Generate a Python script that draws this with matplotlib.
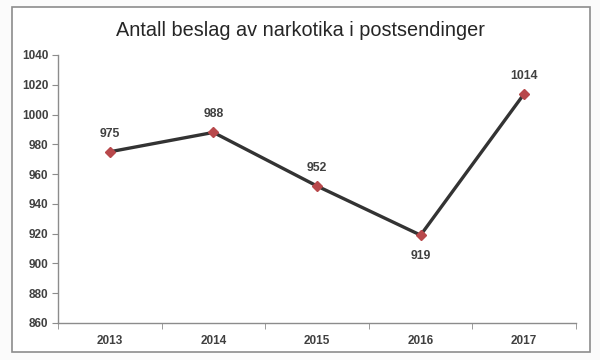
import matplotlib.pyplot as plt
from matplotlib.patches import Rectangle

years = ['2013', '2014', '2015', '2016', '2017']
values = [975, 988, 952, 919, 1014]
label_above = [True, True, True, False, True]
yticks = list(range(860, 1041, 20))

plt.rcParams['font.family'] = ['Liberation Sans', 'DejaVu Sans']

fig = plt.figure(figsize=(6, 3.6), dpi=100)
fig.patch.set_facecolor('#fbfbfb')
# outer chart frame
fig.add_artist(Rectangle((12 / 600, 1 - 352 / 360), 578 / 600, 345 / 360,
                         transform=fig.transFigure, facecolor='white',
                         edgecolor='#8c8c8c', linewidth=1.2, zorder=-10))

ax = fig.add_axes([58 / 600, 1 - 323 / 360, 518 / 600, 268 / 360])
ax.patch.set_alpha(0)
x = list(range(len(years)))
ax.plot(x, values, color='#333333', linewidth=2.4, marker='D', markersize=5.5,
        markerfacecolor='#b8484b', markeredgecolor='#b8484b', zorder=3)

for xi, v, up in zip(x, values, label_above):
    ax.annotate(str(v), (xi, v), xytext=(0, 13 if up else -15), textcoords='offset points',
                ha='center', va='center', fontsize=8.8, fontweight='bold', color='#404040')

ax.set_xlim(-0.5, len(years) - 0.5)
ax.set_ylim(860, 1040)
ax.set_yticks(yticks)
ax.set_yticklabels([str(t) for t in yticks], fontsize=8.5, fontweight='bold', color='#404040')
ax.set_xticks(x)
ax.set_xticklabels(years, fontsize=8.5, fontweight='bold', color='#404040')
ax.set_xticks([i + 0.5 for i in range(-1, len(years))], minor=True)
ax.tick_params(axis='x', which='major', length=0, pad=9)
ax.tick_params(axis='x', which='minor', length=4, color='#8c8c8c', direction='out')
ax.tick_params(axis='y', length=4, color='#8c8c8c', direction='out', pad=3)

for s in ['top', 'right']:
    ax.spines[s].set_visible(False)
for s in ['left', 'bottom']:
    ax.spines[s].set_color('#8c8c8c')
    ax.spines[s].set_linewidth(1.0)

fig.text(0.5, 1 - 30 / 360, 'Antall beslag av narkotika i postsendinger',
         ha='center', va='center', fontsize=14.3, color='#262626')

fig.savefig('out.png', dpi=100)
